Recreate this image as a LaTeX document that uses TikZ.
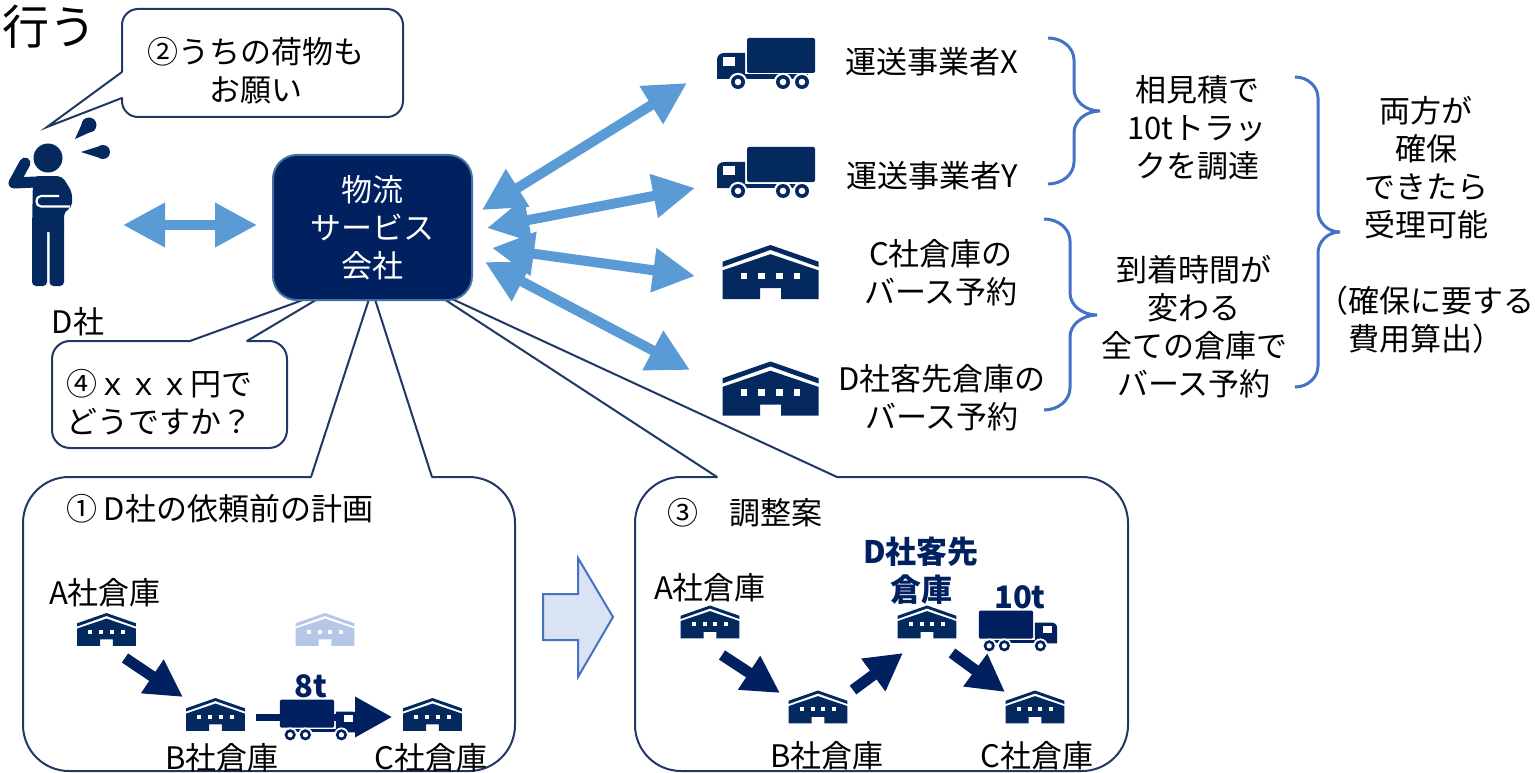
\documentclass[tikz,border=0pt]{standalone}
\usepackage{fontspec}
\setmainfont{Noto Sans CJK JP}
\usetikzlibrary{arrows.meta}
\definecolor{navy}{HTML}{002060}
\definecolor{iconblue}{HTML}{03295F}
\definecolor{linenavy}{HTML}{203864}
\definecolor{boxedge}{HTML}{41719C}
\definecolor{lightarrow}{HTML}{5B9BD5}
\definecolor{bracecol}{HTML}{4472C4}
\definecolor{blockfill}{HTML}{DAE3F3}
\definecolor{faded}{HTML}{B4C7E7}
\newcommand{\BraceRight}[7]{%
  \draw[bracestyle] (#1,#4) .. controls ({#1+0.552*(#2-#1)},#4) and (#2,{#4+#7*0.448}) .. (#2,{#4+#7})
    -- (#2,{#5-#7}) .. controls (#2,{#5-#7*0.448}) and ({#3-0.552*(#3-#2)},#5) .. (#3,#5)
    .. controls ({#3-0.552*(#3-#2)},#5) and (#2,{#5+#7*0.448}) .. (#2,{#5+#7})
    -- (#2,{#6-#7}) .. controls (#2,{#6-#7*0.448}) and ({#1+0.552*(#2-#1)},#6) .. (#1,#6);}
\tikzset{
  txt/.style={inner sep=0pt, outer sep=0pt, align=center, text=black, font=\fontsize{31}{38}\selectfont},
  boldtxt/.style={inner sep=0pt, outer sep=0pt, align=center, text=navy, font=\fontsize{31}{38}\selectfont\bfseries},
  outline/.style={draw=linenavy, line width=2pt, line join=miter},
  lbarrow/.style={draw=lightarrow, line width=10pt, {Triangle[length=42pt,width=42pt]}-{Triangle[length=42pt,width=42pt]}},
  navarrow/.style={draw=navy, line width=11pt, -{Triangle[length=37pt,width=38pt]}},
  bracestyle/.style={draw=bracecol, line width=3pt},
  whcol/.store in=\whcol, whcol=iconblue,
  trcol/.store in=\trcol, trcol=iconblue,
  warehouse/.pic={
    \fill[\whcol] (-48,-10.3) -- (0,-27) -- (48,-10.3) -- (48,-5) -- (0,-22.1) -- (-48,-5) -- cycle;
    \fill[\whcol] (-48,-1.6) -- (0,-17.8) -- (48,-1.6) -- (48,27) -- (10.5,27) -- (10.5,16.2) -- (-10.5,16.2) -- (-10.5,27) -- (-48,27) -- cycle;
    \foreach \wx in {-26.5,-8.8,8.8,26.5}{\fill[white] (\wx-3.25,0.6) rectangle (\wx+3.25,7.1);}
  },
  truck/.pic={
    \fill[\trcol, rounded corners=1.5pt] (-19,-25.5) rectangle (49,9.5);
    \fill[\trcol] (-21,15.5) -- (-49,15.5) -- (-49,-3.5) .. controls (-49,-8) and (-46,-10.5) .. (-41.5,-10.5) -- (-21,-10.5) -- cycle;
    \fill[white] (-43,-6.5) rectangle (-31,2.5);
    \fill[\trcol] (-22,11) rectangle (42,15.5);
    \foreach \cx in {-28,17,36}{
      \fill[white] (\cx,18.5) circle (9.2);
      \fill[\trcol] (\cx,18.5) circle (7);
      \fill[white] (\cx,18.5) circle (3.3);
    }
  }
}
\begin{document}
\begin{tikzpicture}[x=1pt,y=-1pt]
\useasboundingbox (0,0) rectangle (1537,773);
\fill[white] (0,0) rectangle (1537,773);

% title
\node[txt, font=\fontsize{47}{50}\selectfont] (title) at (49,27) {行う};

% speech bubble 2
\draw[outline, rounded corners=16pt] (122,98) -- (122,117) -- (403,117) -- (403,9) -- (122,9) -- (122,72);
\draw[outline, line cap=round] (122,72) -- (47,127) -- (122,98);
\node[txt] (ask) at (256,70.5) {②うちの荷物も\\お願い};

% person
\fill[iconblue] (48,158) circle (14.5);
\fill[iconblue, rounded corners=5pt] (33,176) -- (62,176) -- (72,192) -- (72,208) -- (64,211) -- (64,232) -- (32,232) -- cycle;
\fill[iconblue, rounded corners=4pt] (32,222) rectangle (47,286);
\fill[iconblue, rounded corners=4pt] (49.5,222) rectangle (64,286);
\draw[iconblue, line width=11pt, line cap=round, line join=round] (36,182) -- (14,183) -- (25,163);
\draw[white, line width=2.2pt] (59,196) -- (41,196) .. controls (35,196) and (35,206.5) .. (41,206.5) -- (70,206.5);
\fill[iconblue] (75,139) -- (94.3,130.3) -- (83.7,119.7) -- cycle;
\fill[iconblue] (89,125) circle (7.5);
\fill[iconblue] (81,152) -- (103,145) -- (103,159) -- cycle;
\fill[iconblue] (103,152) circle (7);
\node[txt] (dsha) at (78,322) {D社};

% speech bubble 4
\draw[outline, rounded corners=18pt] (247,341) -- (287,341) -- (287,448) -- (52,448) -- (52,341) -- (190,341);
\draw[outline, line cap=round] (190,341) -- (336,288) -- (247,341);
\node[txt, align=left, anchor=west] (offer) at (66,402.5) {④ｘｘｘ円で\\どうですか？};

% panel 1
\draw[outline, rounded corners=46pt] (432,477) -- (515,477) -- (515,771) -- (23,771) -- (23,477) -- (311,477);
\draw[outline, line cap=round] (311,477) -- (372,290) -- (432,477);
\node[txt, anchor=west] (p1title) at (66,509) {① D社の依頼前の計画};
\node[txt] (p1a) at (105,593) {A社倉庫};
\node[txt] (p1b) at (222,758) {B社倉庫};
\node[txt] (p1c) at (431,758) {C社倉庫};
\pic[scale=0.61] at (106.5,629.5) {warehouse};
\pic[whcol=faded, scale=0.61] at (325,629.5) {warehouse};
\pic[scale=0.61] at (215.5,714.5) {warehouse};
\pic[scale=0.61] at (432.5,714.5) {warehouse};
\coordinate (p1s1) at (125,658); \coordinate (p1e1) at (183,697);
\draw[navarrow] (p1s1) -- (p1e1);
\coordinate (p1s2) at (256,717); \coordinate (p1e2) at (392,717);
\draw[draw=navy, line width=7pt, -{Triangle[length=37pt,width=39pt]}] (p1s2) -- (p1e2);
\pic[trcol=navy, xscale=-0.8, yscale=0.8] at (319,720) {truck};
\node[boldtxt] (eight) at (311,686) {8t};

% block arrow
\draw[draw=bracecol, fill=blockfill, line width=2pt] (543,594) -- (578,594) -- (578,558) -- (613,617) -- (578,677) -- (578,640) -- (543,640) -- cycle;

% panel 2
\draw[outline, rounded corners=46pt] (837,477) -- (1128,477) -- (1128,771) -- (635,771) -- (635,477) -- (717,477);
\draw[outline, line cap=round] (717,477) -- (424,286) -- (837,477);
\node[txt, anchor=west] (p2title) at (667,513) {③　調整案};
\node[txt] (p2a) at (710,587.5) {A社倉庫};
\node[txt] (p2b) at (827,756) {B社倉庫};
\node[txt] (p2c) at (1037,756) {C社倉庫};
\node[boldtxt] (p2d) at (921,571) {D社客先\\倉庫};
\pic[scale=0.61] at (710,622) {warehouse};
\pic[scale=0.61] at (818,707) {warehouse};
\pic[scale=0.61] at (927,622) {warehouse};
\pic[scale=0.61] at (1035,707) {warehouse};
\pic[trcol=navy, xscale=-0.8, yscale=0.8] at (1018,631) {truck};
\node[boldtxt] (ten) at (1020,597) {10t};
\coordinate (p2s1) at (722,655); \coordinate (p2e1) at (780,693);
\coordinate (p2s2) at (853,690); \coordinate (p2e2) at (903,653);
\coordinate (p2s3) at (952,653); \coordinate (p2e3) at (1005,692);
\draw[navarrow] (p2s1) -- (p2e1);
\draw[navarrow] (p2s2) -- (p2e2);
\draw[navarrow] (p2s3) -- (p2e3);

% service company box
\node[draw=boxedge, line width=2pt, fill=navy, rounded corners=24pt, minimum width=199pt, minimum height=145pt, txt, text=white] (svc) at (372.5,227.5) {物流\\サービス\\会社};

% arrows from person and box
\coordinate (pA) at (123,225); \coordinate (pB) at (257,225);
\draw[lbarrow] (pA) -- (pB);
\coordinate (s1) at (482,210); \coordinate (e1) at (687,83);
\coordinate (s2) at (487,228); \coordinate (e2) at (695,188);
\coordinate (s3) at (492,248); \coordinate (e3) at (695,276);
\coordinate (s4) at (485,262); \coordinate (e4) at (690,370);
\draw[lbarrow] (s1) -- (e1);
\draw[lbarrow] (s2) -- (e2);
\draw[lbarrow] (s3) -- (e3);
\draw[lbarrow] (s4) -- (e4);

% right side icons and labels
\pic at (766,63.5) {truck};
\pic at (766,172.5) {truck};
\pic at (770.5,272) {warehouse};
\pic at (770.5,388.5) {warehouse};
\node[txt] (carx) at (932,62) {運送事業者X};
\node[txt] (cary) at (932,176) {運送事業者Y};
\node[txt] (cwh) at (941,273) {C社倉庫の\\バース予約};
\node[txt] (dwh) at (942,397.5) {D社客先倉庫の\\バース予約};

% braces and notes
\BraceRight{1048}{1074}{1100}{38}{111}{184}{22}
\BraceRight{1044}{1070}{1097}{219}{315}{410}{22}
\BraceRight{1295}{1318}{1340}{77}{232}{387}{21}
\node[txt] (quote) at (1197,127.5) {相見積で\\10tトラッ\\クを調達};
\node[txt] (berth) at (1194,327) {到着時間が\\変わる\\全ての倉庫で\\バース予約};
\node[txt] (accept) at (1426,225) {両方が\\確保\\できたら\\受理可能\\[38pt]（確保に要する\\費用算出）};
\end{tikzpicture}
\end{document}
